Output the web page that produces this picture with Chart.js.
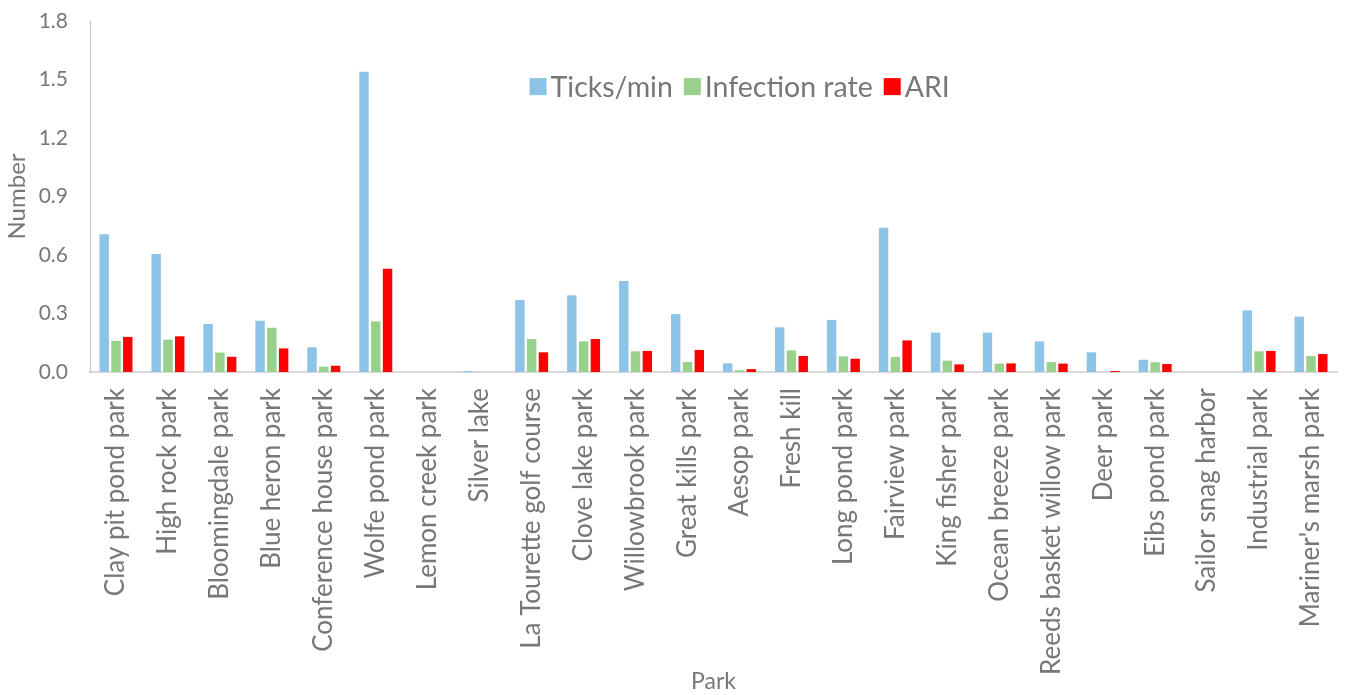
<!DOCTYPE html>
<html>
<head>
<meta charset="utf-8">
<script src="https://cdn.jsdelivr.net/npm/chart.js@4/dist/chart.umd.min.js"></script>
<style>
  html, body { margin: 0; padding: 0; background: #ffffff; }
  #wrap { width: 1347px; height: 695px; position: relative; }
</style>
</head>
<body>
<div id="wrap"><canvas id="chart" width="1347" height="695"></canvas></div>
<script>
// Park names along the x axis
const parks = [
  "Clay pit pond park", "High rock park", "Bloomingdale park", "Blue heron park",
  "Conference house park", "Wolfe pond park", "Lemon creek park", "Silver lake",
  "La Tourette golf course", "Clove lake park", "Willowbrook park", "Great kills park",
  "Aesop park", "Fresh kill", "Long pond park", "Fairview park", "King fisher park",
  "Ocean breeze park", "Reeds basket willow park", "Deer park", "Eibs pond park",
  "Sailor snag harbor", "Industrial park", "Mariner's marsh park"
];

// Series values per park
const ticksPerMin = [0.706, 0.605, 0.246, 0.263, 0.127, 1.54, 0, 0.005,
  0.369, 0.393, 0.467, 0.297, 0.044, 0.229, 0.267, 0.74, 0.202,
  0.202, 0.157, 0.101, 0.063, 0, 0.316, 0.284];
const infectionRate = [0.16, 0.166, 0.10, 0.227, 0.027, 0.26, 0, 0,
  0.169, 0.157, 0.106, 0.051, 0.009, 0.111, 0.08, 0.077, 0.058,
  0.043, 0.051, 0, 0.05, 0, 0.106, 0.082];
const ari = [0.18, 0.183, 0.078, 0.121, 0.032, 0.53, 0, 0,
  0.101, 0.169, 0.108, 0.113, 0.015, 0.082, 0.068, 0.162, 0.039,
  0.044, 0.043, 0.005, 0.041, 0, 0.108, 0.092];

// Y axis range and tick spacing
const yTicks = { min: 0, max: 1.8, step: 0.3 };

const FONT = "Lato, 'Open Sans', sans-serif";
const GREY = "#777777";

// Legend drawn inside the plot, near the top
const insideLegend = {
  id: "insideLegend",
  afterDraw(chart) {
    const ctx = chart.ctx;
    const area = chart.chartArea;
    const fontSize = 28.5;
    const box = 17;
    const boxGap = 4;
    const itemGap = 11;
    ctx.save();
    ctx.font = fontSize + "px " + FONT;
    const items = chart.data.datasets.map(ds => ({
      text: ds.label, color: ds.backgroundColor, w: ctx.measureText(ds.label).width
    }));
    const total = items.reduce((s, it) => s + box + boxGap + it.w, 0) + itemGap * (items.length - 1);
    const cx = area.left + (area.right - area.left) * 0.521;
    const cy = area.top + (area.bottom - area.top) * 0.187;
    let x = cx - total / 2;
    ctx.textBaseline = "middle";
    ctx.textAlign = "left";
    items.forEach(it => {
      ctx.fillStyle = it.color;
      ctx.fillRect(x, cy - box / 2, box, box);
      x += box + boxGap;
      ctx.fillStyle = GREY;
      ctx.fillText(it.text, x, cy + 1);
      x += it.w + itemGap;
    });
    ctx.restore();
  }
};

new Chart(document.getElementById("chart"), {
  type: "bar",
  data: {
    labels: parks,
    datasets: [
      { label: "Ticks/min", data: ticksPerMin, backgroundColor: "#8dc3e6" },
      { label: "Infection rate", data: infectionRate, backgroundColor: "#98d18b" },
      { label: "ARI", data: ari, backgroundColor: "#ff0000" }
    ]
  },
  options: {
    responsive: false,
    animation: false,
    layout: { padding: { top: 21, right: 10, left: 0, bottom: 0 } },
    datasets: { bar: { categoryPercentage: 0.68, barPercentage: 0.8 } },
    plugins: { legend: { display: false }, tooltip: { enabled: false } },
    scales: {
      x: {
        grid: { display: false, drawTicks: false },
        border: { display: true, color: "#d9d9d9", width: 2 },
        ticks: {
          color: GREY, font: { family: FONT, size: 26 },
          minRotation: 90, maxRotation: 90, padding: 16, autoSkip: false
        },
        title: {
          display: true, text: "Park", color: GREY,
          font: { family: FONT, size: 23 }, padding: { top: 0, bottom: 0 }
        },
        afterFit(scale) {
          scale.height = 323;
          scale.paddingLeft = 0;
          scale.paddingRight = 0;
        }
      },
      y: {
        min: yTicks.min, max: yTicks.max,
        grid: { display: false, drawTicks: false },
        border: { display: true, color: "#bfbfbf", width: 1 },
        ticks: {
          stepSize: yTicks.step, color: GREY, padding: 22,
          font: { family: FONT, size: 21 },
          callback: v => Number(v).toFixed(1)
        },
        title: {
          display: true, text: "Number", color: GREY,
          font: { family: FONT, size: 24 }, padding: { top: 3, bottom: 0 }
        },
        afterFit(scale) {
          scale.width = 90;
          scale.paddingTop = 0;
          scale.paddingBottom = 0;
        }
      }
    }
  },
  plugins: [insideLegend]
});
</script>
</body>
</html>
